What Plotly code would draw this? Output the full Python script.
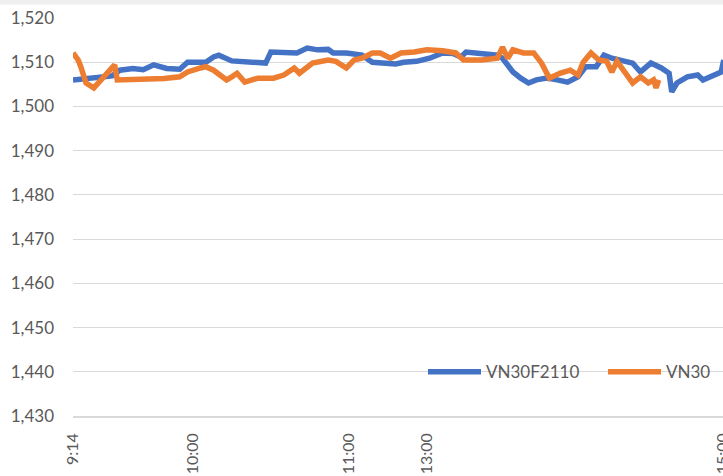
import plotly.graph_objects as go

# ---- data ----
vn30f_times = ["9:14","9:19","9:24","9:29","9:32","9:37","9:41","9:45","9:50","9:55","9:58",
               "10:03","10:05","10:08","10:10","10:15","10:20","10:25","10:28","10:30","10:35",
               "10:40","10:44","10:48","10:52","10:54","10:59","11:05","11:09","11:14","11:18",
               "11:21","11:26","13:01","13:06","13:10","13:13","13:15","13:20","13:27","13:29",
               "13:33","13:36","13:39","13:42","13:46","13:50","13:54","13:58","14:01","14:05",
               "14:08","14:11","14:15","14:19","14:22","14:26","14:30","14:33","14:34","14:36",
               "14:40","14:44","14:46","14:50","14:53","14:54"]
vn30f_values = [1506.0,1506.2,1506.5,1506.9,1508.2,1508.6,1508.3,1509.4,1508.6,1508.4,1510.0,
                1510.1,1510.0,1511.2,1511.6,1510.3,1510.0,1509.8,1509.8,1512.3,1512.1,
                1512.1,1513.2,1512.8,1512.9,1512.1,1512.1,1511.6,1510.0,1509.7,1509.6,
                1510.0,1510.2,1510.9,1512.1,1512.0,1511.2,1512.3,1512.1,1511.6,1510.9,
                1507.8,1506.4,1505.3,1506.0,1506.4,1506.0,1505.5,1506.7,1509.0,1509.0,
                1511.6,1510.9,1510.5,1509.8,1507.8,1509.8,1508.7,1507.5,1503.3,1505.3,
                1506.7,1507.1,1506.0,1507.1,1507.8,1510.5]

vn30_times = ["9:14","9:16","9:17","9:19","9:22","9:26","9:28","9:30","9:31","9:37","9:44",
              "9:49","9:55","9:58","10:03","10:05","10:08","10:13","10:15","10:17","10:20",
              "10:25","10:31","10:35","10:39","10:41","10:46","10:52","10:55","10:59","11:02",
              "11:05","11:09","11:12","11:16","11:20","11:25","13:00","13:06","13:11","13:14",
              "13:21","13:27","13:29","13:31","13:33","13:37","13:41","13:44","13:47","13:51",
              "13:55","13:58","14:00","14:03","14:06","14:09","14:11","14:13","14:15","14:19",
              "14:22","14:25","14:27","14:28","14:29"]
vn30_values = [1512.1,1510.5,1509.0,1505.3,1504.2,1506.7,1508.2,1509.4,1506.0,1506.0,1506.2,
               1506.3,1506.7,1507.8,1508.7,1509.0,1508.2,1506.0,1506.7,1507.5,1505.5,
               1506.4,1506.4,1507.1,1508.7,1507.5,1509.8,1510.5,1510.2,1508.7,1510.5,
               1510.9,1512.1,1512.1,1510.9,1512.1,1512.3,1512.8,1512.6,1512.1,1510.5,
               1510.5,1510.9,1513.4,1510.9,1512.8,1512.1,1512.1,1509.8,1506.4,1507.5,
               1508.2,1507.1,1510.0,1512.1,1510.5,1510.2,1507.8,1510.2,1508.7,1505.3,
               1506.7,1505.3,1506.0,1504.2,1506.0]

tick_labels = ["9:14", "10:00", "11:00", "13:00", "15:00"]
tick_index = [0, 46, 106, 136, 249.6]   # trading-minute position of each label


def trading_minute(t):
    """minutes since 9:14, lunch break (11:30-13:00) removed"""
    h, m = map(int, t.split(":"))
    mins = h * 60 + m
    if mins >= 13 * 60:
        return (11 * 60 + 30 - (9 * 60 + 14)) + (mins - 13 * 60)
    return mins - (9 * 60 + 14)


font_family = "Lato, 'Noto Sans', sans-serif"
grey_text = "#595959"

fig = go.Figure()
fig.add_trace(go.Scatter(
    x=[trading_minute(t) for t in vn30f_times], y=vn30f_values,
    mode="lines", name="VN30F2110", legend="legend",
    line=dict(color="#4472C4", width=5.5, shape="linear"),
))
fig.add_trace(go.Scatter(
    x=[trading_minute(t) for t in vn30_times], y=vn30_values,
    mode="lines", name="VN30", legend="legend2",
    line=dict(color="#ED7D31", width=5.5, shape="linear"),
))

PLOT_L, PLOT_W = 73, 650
leg_common = dict(orientation="h", y=0.11, yanchor="middle", xanchor="left",
                  bgcolor="rgba(0,0,0,0)", font=dict(size=17, color=grey_text),
                  itemwidth=53, borderwidth=0)

fig.update_layout(
    width=723, height=476,
    margin=dict(l=PLOT_L, r=0, t=18, b=60, autoexpand=False),
    paper_bgcolor="white", plot_bgcolor="white",
    font=dict(family=font_family, size=17, color=grey_text),
    showlegend=True,
    legend=dict(x=(423 - PLOT_L) / PLOT_W, **leg_common),
    legend2=dict(x=(603 - PLOT_L) / PLOT_W, **leg_common),
    shapes=[dict(type="rect", xref="paper", yref="paper",
                 x0=-0.2, x1=1.1, y0=1 + (18 - 4.5) / 398, y1=1 + 18 / 398,
                 fillcolor="#efefef", line=dict(width=0), layer="above")],
)

fig.update_xaxes(
    range=[0, 249.7], automargin=False,
    tickmode="array", tickvals=tick_index, ticktext=tick_labels,
    tickangle=-90, showgrid=False, zeroline=False,
    showline=True, linecolor="#d9d9d9", linewidth=1.5,
    ticks="", ticklabelstandoff=9, ticklabeloverflow="allow",
    tickfont=dict(size=16, color=grey_text),
)
fig.update_yaxes(
    range=[1430, 1520], dtick=10, tick0=1430, tickformat=",", automargin=False,
    showgrid=True, gridcolor="#d9d9d9", gridwidth=1,
    zeroline=False, showline=False, ticks="",
    ticklabelstandoff=18,
    tickfont=dict(size=17, color=grey_text),
)

fig.write_html("out.html",
               config={"displayModeBar": False},
               post_script="document.body.style.margin='0';document.body.style.overflow='hidden';")
